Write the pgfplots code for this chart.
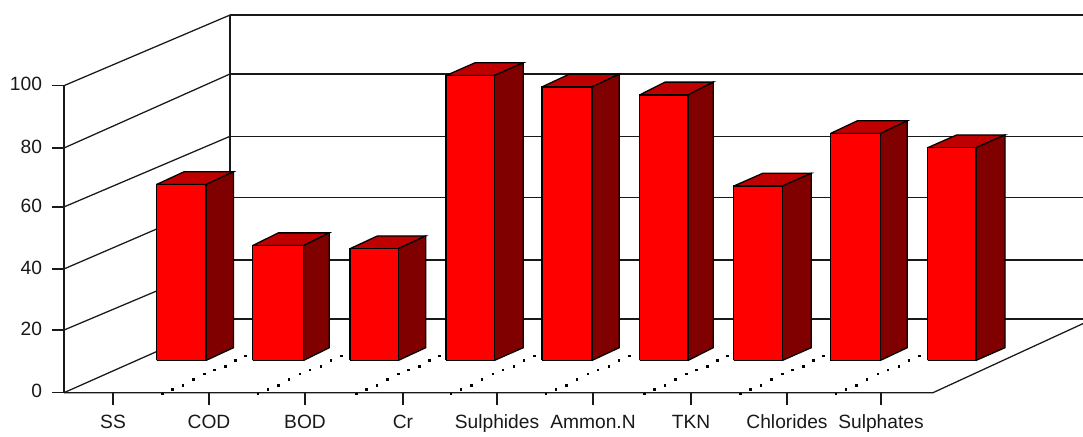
\documentclass[border=0pt]{standalone}
\usepackage{fontspec}
\setmainfont{Liberation Sans}
\usepackage{pgfplots}
\pgfplotsset{compat=1.18}
\definecolor{barfront}{RGB}{255,0,0}
\definecolor{barside}{RGB}{128,0,0}
\definecolor{bartop}{RGB}{190,0,0}
\definecolor{ink}{RGB}{25,25,25}
% one 3D bar: front left x, front right x, back right x, top value
\newcommand{\cube}[4]{%
  \pgfmathsetmacro{\bl}{#1+#3-#2}%
  \pgfmathsetmacro{\tb}{#4+4.15}%
  \addplot[draw=black, line width=.95pt, fill=bartop] coordinates
    {(#1,#4) (#2,#4) (#3,\tb) (\bl,\tb) (#1,#4)};
  \addplot[draw=black, line width=.95pt, fill=barside] coordinates
    {(#2,10.5) (#3,14.65) (#3,\tb) (#2,#4) (#2,10.5)};
  \addplot[draw=black, line width=.95pt, fill=barfront] coordinates
    {(#1,10.5) (#2,10.5) (#2,#4) (#1,#4) (#1,10.5)};
}
\begin{document}
\begin{tikzpicture}
\begin{axis}[
  width=812.25pt, height=324.75pt, scale only axis,
  xmin=-64, xmax=1019, ymin=-13.13, ymax=127.9,
  axis lines=middle,
  axis line style={draw=none},
  hide obscured x ticks=false, hide obscured y ticks=false,
  tick align=outside,
  major tick length=9pt,
  tick style={draw=ink, line width=.95pt},
  xtick={49,145,241,339,433,529,627,723,817},
  xticklabels={SS,COD,BOD,Cr,Sulphides,Ammon.N,TKN,Chlorides,Sulphates},
  ytick={0,20.4,40.3,60.5,79.7,100},
  yticklabels={0,20,40,60,80,100},
  /pgf/number format/assume math mode=true,
  tick label style={font=\fontsize{14.4}{16}\selectfont, text=ink},
  xticklabel style={text height=10.3pt, text depth=3pt, yshift=-4pt},
  yticklabel style={xshift=-4pt, yshift=1pt},
]
\path (rel axis cs:0,0) (rel axis cs:1,1);
% side wall
\addplot[draw=ink, line width=.95pt] coordinates {(0,0) (0,100)};
\addplot[draw=ink, line width=.95pt] coordinates {(0,0) (166,24.0)};
\addplot[draw=ink, line width=.95pt] coordinates {(0,20.4) (166,43.2)};
\addplot[draw=ink, line width=.95pt] coordinates {(0,40.3) (166,63.6)};
\addplot[draw=ink, line width=.95pt] coordinates {(0,60.5) (166,83.5)};
\addplot[draw=ink, line width=.95pt] coordinates {(0,79.7) (166,103.8)};
\addplot[draw=ink, line width=.95pt] coordinates {(0,100) (166,123.0)};
% back wall
\addplot[draw=ink, line width=1.1pt] coordinates {(166,24.0) (166,123.0)};
\addplot[draw=ink, line width=.95pt] coordinates {(166,24.0) (1019,24.0)};
\addplot[draw=ink, line width=.95pt] coordinates {(166,43.2) (1019,43.2)};
\addplot[draw=ink, line width=.95pt] coordinates {(166,63.6) (1019,63.6)};
\addplot[draw=ink, line width=.95pt] coordinates {(166,83.5) (1019,83.5)};
\addplot[draw=ink, line width=.95pt] coordinates {(166,103.8) (1019,103.8)};
\addplot[draw=ink, line width=1.1pt] coordinates {(166,123.0) (1019,123.0)};
% floor
\addplot[draw=ink, line width=.95pt] coordinates {(0,0) (869,0) (1019,22.5)};
% specks on the floor
\addplot[only marks, mark=square*, mark size=.6pt, black] coordinates {
  (98,-0.3) (108,1.2) (118.7,2.5) (129,4.45) (140,6.1) (150,7.5) (161,8.7) (171,10.5) (181.5,12)
  (193.7,-0.3) (203.7,1.2) (214.4,2.5) (224.7,4.45) (235.7,6.1) (245.7,7.5) (256.7,8.7) (266.7,10.5) (277.2,12)
  (292,-0.3) (302,1.2) (312.7,2.5) (323,4.45) (334,6.1) (344,7.5) (355,8.7) (365,10.5) (375.5,12)
  (386.7,-0.3) (396.7,1.2) (407.4,2.5) (417.7,4.45) (428.7,6.1) (438.7,7.5) (449.7,8.7) (459.7,10.5) (470.2,12)
  (481.7,-0.3) (491.7,1.2) (502.4,2.5) (512.7,4.45) (523.7,6.1) (533.7,7.5) (544.7,8.7) (554.7,10.5) (565.2,12)
  (580,-0.3) (590,1.2) (600.7,2.5) (611,4.45) (622,6.1) (632,7.5) (643,8.7) (653,10.5) (663.5,12)
  (676,-0.3) (686,1.2) (696.7,2.5) (707,4.45) (718,6.1) (728,7.5) (739,8.7) (749,10.5) (759.5,12)
  (771.7,-0.3) (781.7,1.2) (792.4,2.5) (802.7,4.45) (813.7,6.1) (823.7,7.5) (834.7,8.7) (844.7,10.5) (855.2,12)
};
% bars
\cube{92.5}{142}{169.5}{67.8}
\cube{188.5}{239.5}{265.3}{47.9}
\cube{286}{334.3}{361.7}{46.9}
\cube{382}{430.3}{459.3}{103.3}
\cube{478}{528}{555.3}{99.6}
\cube{575.7}{624}{649.3}{97.0}
\cube{669.7}{718.3}{747.3}{67.3}
\cube{766.3}{816.3}{843.3}{84.4}
\cube{863.7}{912}{941}{79.8}
\end{axis}
\end{tikzpicture}
\end{document}
